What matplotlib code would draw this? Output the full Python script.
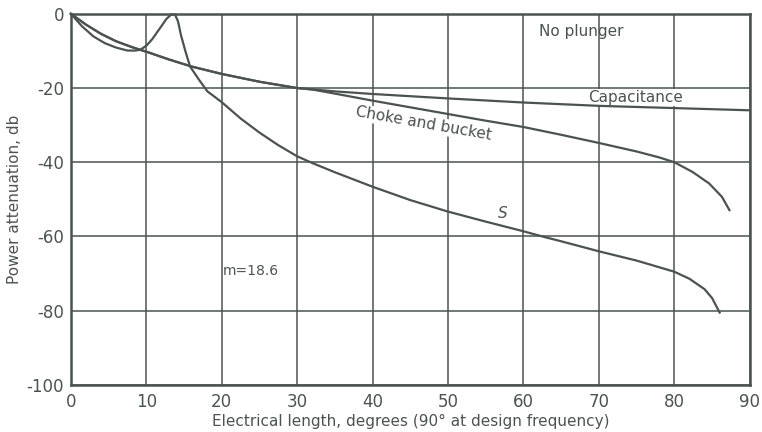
import matplotlib
matplotlib.use("Agg")
import matplotlib.pyplot as plt

# values (degrees, dB)
cap_x = [0, 2, 4, 6, 8, 9.2, 10, 13, 16, 20, 25, 30, 35, 40, 50, 60, 70, 80, 90]
cap_y = [0, -2.9, -5.4, -7.4, -8.9, -9.7, -10.2, -12.3, -14.2, -16.2, -18.3, -20.0,
         -20.9, -21.6, -22.8, -23.9, -24.8, -25.4, -26.0]

choke_x = [0, 2, 4, 6, 8, 9.2, 10, 13, 16, 20, 25, 30, 32, 35, 40, 45, 50, 55, 60,
           65, 70, 75, 78, 80, 82.4, 84.6, 86.3, 87.3]
choke_y = [0, -2.9, -5.4, -7.4, -8.9, -9.7, -10.2, -12.3, -14.2, -16.2, -18.3, -20.0,
           -20.4, -21.5, -23.4, -25.2, -27.0, -28.8, -30.5, -32.6, -34.8, -37.1,
           -38.7, -40.0, -42.6, -45.7, -49.3, -52.9]

s_x = [0, 1.5, 3, 4.5, 6, 7.5, 8.5, 9.2, 10, 10.8, 11.8, 12.7, 13.3, 13.8, 14.2,
       14.6, 15.2, 15.8, 17, 18.1, 20, 22.5, 25, 27.5, 30, 32, 35, 40, 45, 50, 55,
       60, 62.5, 65, 70, 75, 80, 82, 84, 85, 86]
s_y = [0, -3.4, -6.1, -7.9, -9.1, -9.9, -9.9, -9.7, -8.6, -6.8, -3.9, -1.3, -0.2,
       -0.2, -2.0, -5.8, -10.2, -14.2, -17.8, -20.9, -23.8, -28.2, -32.0, -35.4,
       -38.4, -40.2, -42.7, -46.6, -50.2, -53.3, -56.0, -58.6, -60.0, -61.3, -64.0,
       -66.5, -69.5, -71.4, -74.2, -76.6, -80.5]

x_ticks = [0, 10, 20, 30, 40, 50, 60, 70, 80, 90]
y_ticks = [0, -20, -40, -60, -80, -100]

ink = '#4b5350'

plt.rcParams['axes.unicode_minus'] = False
plt.rcParams['font.family'] = 'DejaVu Sans'

fig = plt.figure(figsize=(7.62, 4.32), dpi=100)
ax = fig.add_axes([0.093, 0.109, 0.891, 0.859])

ax.set_xlim(0, 90)
ax.set_ylim(-100, 0)
ax.set_xticks(x_ticks)
ax.set_yticks(y_ticks)
ax.grid(True, color=ink, lw=1.1)
ax.set_axisbelow(True)
for sp in ax.spines.values():
    sp.set_color(ink)
    sp.set_linewidth(1.8)
ax.tick_params(length=0, colors=ink, labelsize=12)
ax.tick_params(axis='x', pad=6)
ax.tick_params(axis='y', pad=5)

for xs, ys in [(cap_x, cap_y), (choke_x, choke_y), (s_x, s_y)]:
    ax.plot(xs, ys, color=ink, lw=1.6, solid_joinstyle='round', clip_on=False, zorder=3)

box = dict(facecolor='white', edgecolor='none', pad=0.8)
ax.text(67.7, -4.7, 'No plunger', color=ink, fontsize=11, ha='center', va='center', zorder=4)
ax.text(74.8, -22.6, 'Capacitance', color=ink, fontsize=11, ha='center', va='center',
        bbox=box, zorder=2.5)
ax.text(46.8, -29.6, 'Choke and bucket', color=ink, fontsize=11, ha='center', va='center',
        rotation=-10, bbox=box, zorder=2.5)
ax.text(57.2, -53.8, 'S', color=ink, fontsize=11, style='italic', ha='center', va='center', zorder=4)
ax.text(23.9, -69.3, 'm=18.6', color=ink, fontsize=10, ha='center', va='center', zorder=4)

ax.set_xlabel('Electrical length, degrees (90° at design frequency)', color=ink,
              fontsize=11, labelpad=2)
ax.set_ylabel('Power attenuation, db', color=ink, fontsize=11, labelpad=3)

fig.savefig('out.png', dpi=100)
